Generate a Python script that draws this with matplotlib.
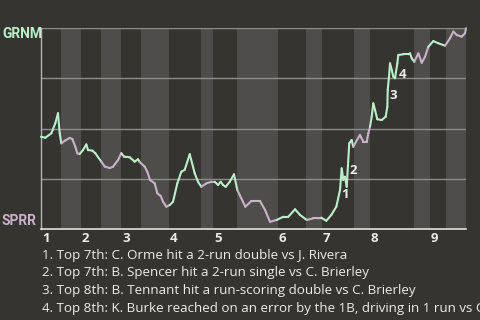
import matplotlib
matplotlib.use("Agg")
import matplotlib.pyplot as plt
import matplotlib.transforms as mtransforms
from matplotlib.collections import LineCollection
import numpy as np

# ---- data (play index, GRNM win probability) ----
play = [0.0, 1.07, 2.57, 3.57, 4.24, 4.66, 5.06, 5.91, 7.16, 7.81, 8.56, 9.05, 9.65,
        10.48, 11.30, 11.72, 12.80, 13.54, 15.04, 15.89, 17.14, 17.96, 19.21, 20.03,
        20.70, 22.12, 23.37, 24.19, 24.62, 25.87, 26.51, 27.19, 28.36, 29.01, 29.86,
        30.43, 31.25, 32.10, 32.93, 34.00, 35.00, 35.84, 37.09, 38.34, 39.16, 39.98,
        41.23, 42.48, 43.33, 44.15, 44.82, 45.40, 46.07, 47.07, 48.14, 48.96, 49.56,
        50.96, 52.46, 54.63, 55.87, 57.12, 58.79, 60.44, 61.68, 63.36, 64.60, 66.27,
        67.92, 69.17, 69.92, 71.16, 72.41, 73.66, 74.58, 75.00, 75.40, 75.83, 76.25,
        76.88, 77.48, 77.88, 79.55, 80.39, 81.23, 81.64, 82.06, 82.48, 82.88, 83.31,
        83.88, 84.98, 85.98, 86.38, 86.48, 86.80, 87.05, 87.48, 87.87, 88.30, 88.87,
        89.12, 90.37, 91.62, 92.04, 92.47, 93.11, 94.11, 94.96, 95.78, 96.61, 97.85,
        99.10, 100.77, 102.02, 102.84, 103.69, 104.93, 105.76, 106.0]
wp = [0.459, 0.454, 0.476, 0.526, 0.576, 0.478, 0.426, 0.439, 0.453, 0.448, 0.409, 0.377,
      0.373, 0.393, 0.421, 0.393, 0.390, 0.377, 0.335, 0.311, 0.303, 0.310, 0.343, 0.377,
      0.360, 0.357, 0.335, 0.347, 0.333, 0.310, 0.285, 0.244, 0.227, 0.178, 0.164, 0.136,
      0.111, 0.119, 0.136, 0.227, 0.285, 0.294, 0.372, 0.277, 0.235, 0.210, 0.227, 0.235,
      0.235, 0.219, 0.235, 0.219, 0.210, 0.235, 0.272, 0.194, 0.169, 0.111, 0.139, 0.139,
      0.095, 0.036, 0.045, 0.061, 0.061, 0.098, 0.070, 0.045, 0.053, 0.053, 0.056, 0.041,
      0.070, 0.111, 0.194, 0.302, 0.244, 0.260, 0.210, 0.426, 0.443, 0.409, 0.468, 0.434,
      0.434, 0.476, 0.509, 0.559, 0.625, 0.592, 0.546, 0.542, 0.559, 0.608, 0.692, 0.758,
      0.824, 0.791, 0.758, 0.750, 0.824, 0.866, 0.869, 0.869, 0.874, 0.849, 0.832, 0.874,
      0.827, 0.857, 0.907, 0.935, 0.924, 0.912, 0.949, 0.982, 0.965, 0.957, 0.974, 0.999]

half_bounds = [0, 5, 10, 15, 20, 25, 32, 40, 43, 49, 59, 66, 70, 78, 82, 93, 97, 101, 106]
innings = ["1", "2", "3", "4", "5", "6", "7", "8", "9"]

event_labels = ["1", "2", "3", "4"]
event_x = [75.9, 77.9, 87.9, 90.1]
event_y = [0.17, 0.289, 0.662, 0.771]

notes = [
    "1. Top 7th: C. Orme hit a 2-run double vs J. Rivera",
    "2. Top 7th: B. Spencer hit a 2-run single vs C. Brierley",
    "3. Top 8th: B. Tennant hit a run-scoring double vs C. Brierley",
    "4. Top 8th: K. Burke reached on an error by the 1B, driving in 1 run vs C. Brierley",
]
teams = ["GRNM", "SPRR"]

# ---- style ----
BG = "#363430"
BAND = "#4e4d4b"
GRID = "#8e8d8b"
GREEN = "#b9f0cb"
PURPLE = "#c8b3c8"
TXT = "#ececec"
plt.rcParams['font.family'] = ['Open Sans', 'DejaVu Sans']
team_family = ['Roboto', 'Open Sans', 'DejaVu Sans']

fig = plt.figure(figsize=(4.8, 3.2), dpi=100, facecolor=BG)
ax = fig.add_axes([41 / 480, 1 - 229 / 320, 425 / 480, 201 / 320])
ax.set_facecolor(BG)
ax.set_xlim(half_bounds[0], half_bounds[-1])
ax.set_ylim(0, 1)

for i in range(len(half_bounds) - 1):
    if i % 2 == 1:
        ax.axvspan(half_bounds[i], half_bounds[i + 1], color=BAND, lw=0, zorder=0)
for yv in [0.25, 0.5, 0.75, 1.0]:
    ax.axhline(yv, color=GRID, lw=1.0, zorder=1)

for s in ["top", "right"]:
    ax.spines[s].set_visible(False)
ax.spines["left"].set_color("#b4b3b1")
ax.spines["left"].set_linewidth(1.0)
ax.spines["bottom"].set_color("#e0e0e0")
ax.spines["bottom"].set_linewidth(1.2)
ax.set_xticks([])
ax.set_yticks([])

pts = np.column_stack([play, wp])
segs = np.stack([pts[:-1], pts[1:]], axis=1)
mids = (pts[:-1, 0] + pts[1:, 0]) / 2
half_idx = np.searchsorted(half_bounds, mids, side="right") - 1
colors = [GREEN if h % 2 == 0 else PURPLE for h in half_idx]
lc = LineCollection(segs, colors=colors, linewidths=1.5, zorder=3,
                    capstyle="round", joinstyle="round", clip_on=False)
ax.add_collection(lc)

for lab, x, y in zip(event_labels, event_x, event_y):
    ax.text(x, y, lab, ha="center", va="center", color=TXT, fontsize=9.5,
            fontweight="bold", zorder=4)

trans = mtransforms.blended_transform_factory(ax.transData, ax.transAxes)
for k, lab in enumerate(innings):
    ax.text(half_bounds[2 * k] + 0.2, -0.045, lab, transform=trans, ha="left",
            va="center", color=TXT, fontsize=9.5, fontweight="bold")

fig.text(2 / 480, 1 - 34 / 320, teams[0], ha="left", va="center", color=GREEN,
         fontsize=10, fontweight="bold", family=team_family)
fig.text(2 / 480, 1 - 221 / 320, teams[1], ha="left", va="center", color=PURPLE,
         fontsize=10, fontweight="bold", family=team_family)

for i, note in enumerate(notes):
    fig.text(42 / 480, 1 - (255 + 17.7 * i) / 320, note, ha="left", va="center",
             color=TXT, fontsize=9.65)

fig.savefig("out.png", dpi=100, facecolor=BG)
